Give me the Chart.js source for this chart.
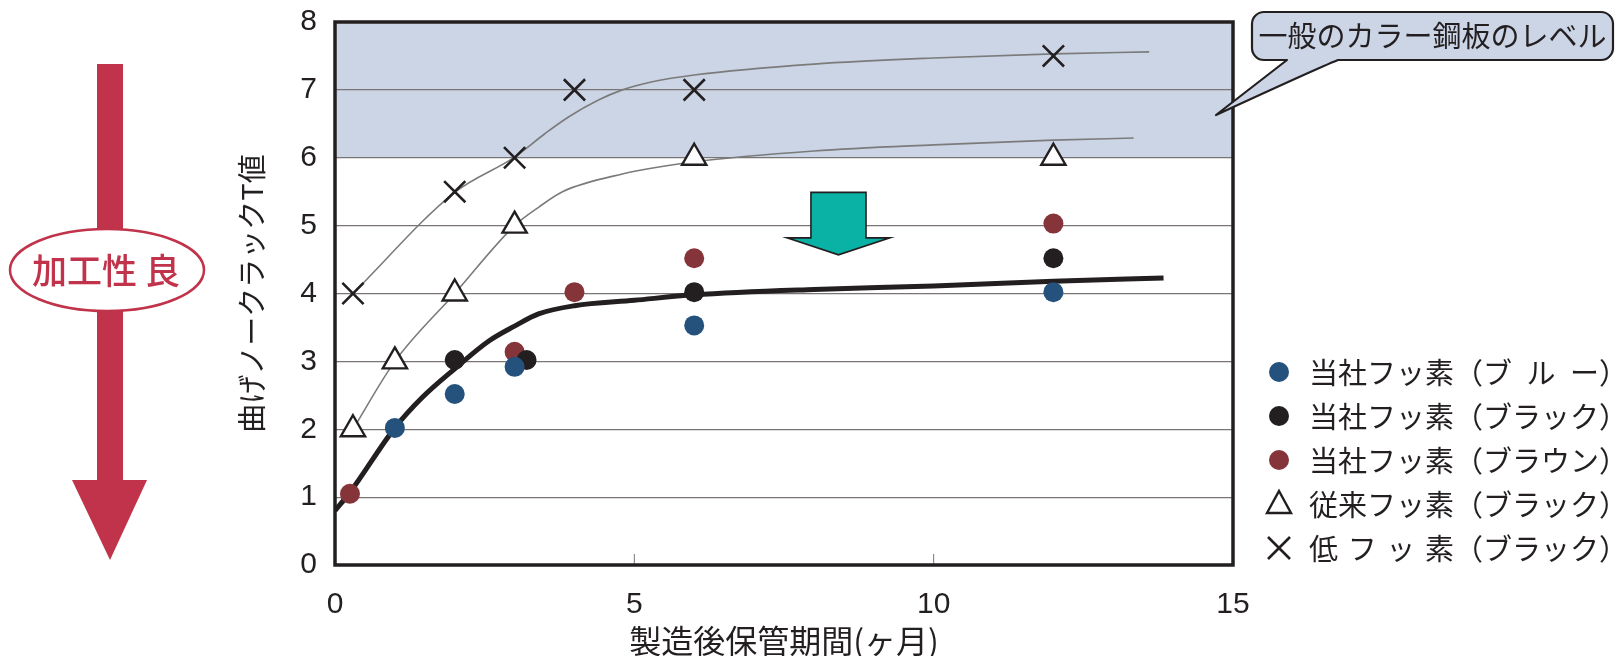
<!DOCTYPE html>
<html><head><meta charset="utf-8">
<script src="https://cdn.jsdelivr.net/npm/chart.js@4.4.1/dist/chart.umd.min.js"></script>
<style>html,body{margin:0;padding:0;background:#fff;}#c{display:block;}</style>
</head><body>
<canvas id="c" width="1616" height="656"></canvas>
<script>
// ---- data ----
const xTickValues = [0, 5, 10, 15];
const yTickValues = [0, 1, 2, 3, 4, 5, 6, 7, 8];

const blueMonths  = [1, 2, 3, 6, 12];
const blueValues  = [2.02, 2.52, 2.92, 3.53, 4.02];
const blackMonths = [2, 3.2, 6, 12];
const blackValues = [3.02, 3.02, 4.02, 4.52];
const brownMonths = [0.25, 3, 4, 6, 12];
const brownValues = [1.05, 3.14, 4.02, 4.52, 5.03];
const triMonths   = [0.3, 1, 2, 3, 6, 12];
const triValues   = [2, 3, 4, 5, 6, 6];
const lowMonths   = [0.3, 2, 3, 4, 6, 12];
const lowValues   = [4, 5.5, 6, 7, 7, 7.5];

const trendMonths = [0, 0.25, 1, 1.46, 2, 2.57, 3, 3.4, 4, 5, 6, 8, 10, 12, 13.84];
const trendValues = [0.8, 1.07, 2.02, 2.47, 2.89, 3.3, 3.52, 3.7, 3.82, 3.9, 3.98, 4.06, 4.11, 4.18, 4.23];
const triCurveMonths = [0.3, 1, 2, 3, 3.4, 3.8, 4.8, 6, 8, 10, 12, 13.34];
const triCurveValues = [2, 3, 4, 5, 5.27, 5.5, 5.76, 5.94, 6.1, 6.19, 6.26, 6.29];
const lowCurveMonths = [0.3, 2, 3, 3.5, 3.9, 4.4, 4.8, 5.3, 6, 8, 10, 12, 13.6];
const lowCurveValues = [4, 5.49, 6.01, 6.35, 6.6, 6.85, 7.0, 7.12, 7.22, 7.38, 7.47, 7.53, 7.56];

const levelBand = [6, 8];
const legendLabels = ['当社フッ素（ブ\u2002ル\u2002ー）', '当社フッ素（ブラック）', '当社フッ素（ブラウン）', '従来フッ素（ブラック）', '低\u2004フ\u2004ッ\u2004素（ブラック）'];
const xTitle = '製造後保管期間(ヶ月)';
const yTitle = '曲げノークラックT値';
const calloutText = '一般のカラー鋼板のレベル';
const sideText = '加工性 良';

const pts = (xs, ys) => xs.map((x, i) => ({x, y: ys[i]}));
const INK = '#231F20';
const CJK = "'Noto Sans CJK JP', sans-serif";
const NUM = "'Liberation Sans Narrow', 'Liberation Sans', sans-serif";
const RED = '#C0334A';

const markerSets = [
  {label: legendLabels[0], data: pts(blueMonths, blueValues), pointStyle: 'circle', radius: 10, backgroundColor: '#24527D', borderColor: '#24527D', borderWidth: 0},
  {label: legendLabels[1], data: pts(blackMonths, blackValues), pointStyle: 'circle', radius: 10, backgroundColor: INK, borderColor: INK, borderWidth: 0},
  {label: legendLabels[2], data: pts(brownMonths, brownValues), pointStyle: 'circle', radius: 10, backgroundColor: '#853439', borderColor: '#853439', borderWidth: 0},
  {label: legendLabels[3], data: pts(triMonths, triValues), pointStyle: 'triangle', radius: 14, backgroundColor: '#ffffff', borderColor: INK, borderWidth: 2.4},
  {label: legendLabels[4], data: pts(lowMonths, lowValues), pointStyle: 'crossRot', radius: 15, backgroundColor: INK, borderColor: INK, borderWidth: 2.6}
];

const datasets = markerSets.map(m => ({
  label: m.label, data: m.data, showLine: false,
  pointStyle: m.pointStyle, pointRadius: m.radius, pointHoverRadius: m.radius,
  pointBackgroundColor: m.backgroundColor, pointBorderColor: m.borderColor, pointBorderWidth: m.borderWidth,
  backgroundColor: m.backgroundColor, borderColor: m.borderColor
}));
datasets.push(
  {label: 'trend', data: pts(trendMonths, trendValues), showLine: true, pointRadius: 0, borderColor: INK, borderWidth: 5, cubicInterpolationMode: 'monotone', fill: false},
  {label: 'triCurve', data: pts(triCurveMonths, triCurveValues), showLine: true, pointRadius: 0, borderColor: '#7b7b7b', borderWidth: 1.6, cubicInterpolationMode: 'monotone', fill: false},
  {label: 'lowCurve', data: pts(lowCurveMonths, lowCurveValues), showLine: true, pointRadius: 0, borderColor: '#7b7b7b', borderWidth: 1.6, cubicInterpolationMode: 'monotone', fill: false}
);

const deco = {
  id: 'deco',
  beforeDraw(chart) {
    const {ctx, chartArea: a, scales: {y}} = chart;
    ctx.save();
    ctx.fillStyle = '#CCD5E6';
    const t = y.getPixelForValue(levelBand[1]), b = y.getPixelForValue(levelBand[0]);
    ctx.fillRect(a.left, t, a.right - a.left, b - t);
    ctx.restore();
  },
  afterDatasetsDraw(chart) {
    const {ctx, chartArea: a, scales: {x, y}} = chart;
    ctx.save();
    ctx.strokeStyle = '#777'; ctx.lineWidth = 1;
    [5, 10].forEach(v => { const px = x.getPixelForValue(v); ctx.beginPath(); ctx.moveTo(px, a.bottom); ctx.lineTo(px, a.bottom - 11); ctx.stroke(); });
    // teal arrow
    const cx = 8.41, sh = 0.46, hh = 0.86, top = 5.49, base = 4.82, tip = 4.57;
    ctx.beginPath();
    ctx.moveTo(x.getPixelForValue(cx - sh), y.getPixelForValue(top));
    ctx.lineTo(x.getPixelForValue(cx + sh), y.getPixelForValue(top));
    ctx.lineTo(x.getPixelForValue(cx + sh), y.getPixelForValue(base));
    ctx.lineTo(x.getPixelForValue(cx + hh), y.getPixelForValue(base));
    ctx.lineTo(x.getPixelForValue(cx), y.getPixelForValue(tip));
    ctx.lineTo(x.getPixelForValue(cx - hh), y.getPixelForValue(base));
    ctx.lineTo(x.getPixelForValue(cx - sh), y.getPixelForValue(base));
    ctx.closePath();
    ctx.fillStyle = '#0AB2A5'; ctx.fill();
    ctx.strokeStyle = INK; ctx.lineWidth = 1.6; ctx.lineJoin = 'miter'; ctx.stroke();
    // frame
    ctx.strokeStyle = INK; ctx.lineWidth = 3.5;
    ctx.strokeRect(a.left, a.top, a.right - a.left, a.bottom - a.top);
    ctx.restore();
  },
  afterDraw(chart) {
    const {ctx, chartArea: a} = chart;
    ctx.save();
    ctx.fillStyle = INK;
    ctx.textAlign = 'center'; ctx.textBaseline = 'middle';
    ctx.font = '32px ' + CJK;
    ctx.fillText(xTitle, (a.left + a.right) / 2, 641);
    ctx.save();
    ctx.translate(252, (a.top + a.bottom) / 2);
    ctx.rotate(-Math.PI / 2);
    ctx.font = '29px ' + CJK;
    ctx.fillText(yTitle, 0, 0);
    ctx.restore();

    // left red arrow
    ctx.fillStyle = RED;
    ctx.fillRect(97, 64, 26, 418);
    ctx.beginPath(); ctx.moveTo(72, 480); ctx.lineTo(147, 480); ctx.lineTo(110, 560); ctx.closePath(); ctx.fill();
    ctx.beginPath(); ctx.ellipse(107, 270, 97, 41, 0, 0, Math.PI * 2);
    ctx.fillStyle = '#fff'; ctx.fill();
    ctx.strokeStyle = RED; ctx.lineWidth = 2.5; ctx.stroke();
    ctx.fillStyle = RED; ctx.font = '500 35px ' + CJK;
    ctx.fillText(sideText, 106, 271);

    // callout
    const x1 = 1252, y1 = 12, x2 = 1613, y2 = 60, r = 12;
    ctx.beginPath();
    ctx.moveTo(x1 + r, y1);
    ctx.lineTo(x2 - r, y1); ctx.arcTo(x2, y1, x2, y1 + r, r);
    ctx.lineTo(x2, y2 - r); ctx.arcTo(x2, y2, x2 - r, y2, r);
    ctx.lineTo(1338, y2);
    ctx.quadraticCurveTo(1318, 68, 1216, 115);
    ctx.lineTo(1287, y2);
    ctx.lineTo(x1 + r, y2); ctx.arcTo(x1, y2, x1, y2 - r, r);
    ctx.lineTo(x1, y1 + r); ctx.arcTo(x1, y1, x1 + r, y1, r);
    ctx.closePath();
    ctx.fillStyle = '#CCD5E6'; ctx.fill();
    ctx.strokeStyle = INK; ctx.lineWidth = 2.2; ctx.lineJoin = 'round'; ctx.stroke();
    ctx.fillStyle = INK; ctx.font = '29px ' + CJK;
    ctx.fillText(calloutText, (x1 + x2) / 2, 36);

    // legend
    ctx.textAlign = 'left';
    ctx.font = '29px ' + CJK;
    markerSets.forEach((m, i) => {
      const ly = 372 + i * 44, lx = 1279;
      ctx.fillStyle = m.backgroundColor; ctx.strokeStyle = m.borderColor;
      if (m.pointStyle === 'circle') {
        ctx.beginPath(); ctx.arc(lx, ly, 10, 0, Math.PI * 2); ctx.fill();
      } else if (m.pointStyle === 'triangle') {
        ctx.lineWidth = m.borderWidth; ctx.lineJoin = 'miter';
        ctx.beginPath(); ctx.moveTo(lx, ly - 13); ctx.lineTo(lx + 12, ly + 9); ctx.lineTo(lx - 12, ly + 9); ctx.closePath();
        ctx.fillStyle = '#fff'; ctx.fill(); ctx.stroke();
      } else {
        ctx.lineWidth = m.borderWidth; const d = 11;
        ctx.beginPath(); ctx.moveTo(lx - d, ly - d); ctx.lineTo(lx + d, ly + d); ctx.moveTo(lx + d, ly - d); ctx.lineTo(lx - d, ly + d); ctx.stroke();
      }
      ctx.fillStyle = INK;
      ctx.fillText(m.label, 1309, ly + 1);
    });
    ctx.restore();
  }
};

new Chart(document.getElementById('c'), {
  type: 'scatter',
  data: {datasets},
  options: {
    responsive: false, animation: false, devicePixelRatio: 1,
    layout: {padding: {left: 0, top: 22, right: 383, bottom: 0}},
    plugins: {legend: {display: false}, tooltip: {enabled: false}},
    scales: {
      x: {
        type: 'linear', min: 0, max: 15,
        afterBuildTicks: s => { s.ticks = xTickValues.map(v => ({value: v})); },
        afterFit: s => { s.height = 91; s.paddingLeft = 0; s.paddingRight = 0; },
        grid: {display: false}, border: {display: false},
        ticks: {padding: 14, color: INK, font: {family: NUM, size: 30}}
      },
      y: {
        type: 'linear', min: 0, max: 8,
        afterBuildTicks: s => { s.ticks = yTickValues.map(v => ({value: v})); },
        afterFit: s => { s.width = 335; s.paddingTop = 0; s.paddingBottom = 0; },
        grid: {color: '#7a7474', lineWidth: 1.2, drawTicks: false}, border: {display: false},
        ticks: {padding: 18, color: INK, font: {family: NUM, size: 30}}
      }
    }
  },
  plugins: [deco]
});
</script>
</body></html>
